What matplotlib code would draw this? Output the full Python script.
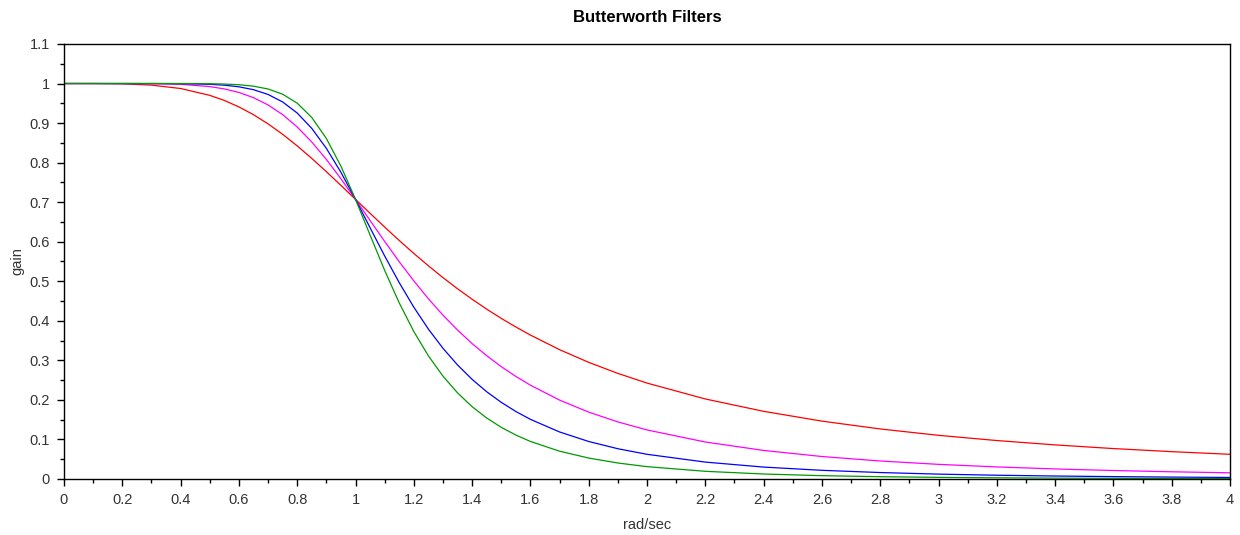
import matplotlib
matplotlib.use('Agg')
import matplotlib.pyplot as plt
from matplotlib.ticker import MultipleLocator

plt.rcParams['font.family'] = ['Liberation Sans', 'DejaVu Sans']

# frequency points (rad/sec)
w = [0.0, 0.1, 0.2, 0.3, 0.4, 0.5, 0.55, 0.6, 0.65, 0.7, 0.75, 0.8, 0.85, 0.9, 0.95,
     1.0, 1.05, 1.1, 1.15, 1.2, 1.25, 1.3, 1.35, 1.4, 1.45, 1.5, 1.55, 1.6, 1.7, 1.8,
     1.9, 2.0, 2.2, 2.4, 2.6, 2.8, 3.0, 3.2, 3.4, 3.6, 3.8, 4.0]

gain_red = [1.0, 1.0, 0.9992, 0.996, 0.9874, 0.9701, 0.9572, 0.9409, 0.9212, 0.898,
            0.8716, 0.8423, 0.8106, 0.7771, 0.7424, 0.7071, 0.6718, 0.637, 0.6031,
            0.5704, 0.5391, 0.5092, 0.481, 0.4545, 0.4295, 0.4061, 0.3843, 0.3639,
            0.327, 0.2949, 0.267, 0.2425, 0.2023, 0.1711, 0.1463, 0.1265, 0.1104,
            0.0972, 0.0862, 0.0769, 0.0691, 0.0624]
gain_magenta = [1.0, 1.0, 1.0, 0.9996, 0.998, 0.9923, 0.9864, 0.9775, 0.9643, 0.9459,
                0.9214, 0.8901, 0.8521, 0.8081, 0.7592, 0.7071, 0.6537, 0.6007, 0.5494,
                0.5009, 0.4557, 0.4143, 0.3765, 0.3424, 0.3117, 0.2841, 0.2594, 0.2372,
                0.1995, 0.169, 0.1443, 0.124, 0.0935, 0.0722, 0.0568, 0.0455, 0.037,
                0.0305, 0.0254, 0.0214, 0.0182, 0.0156]
gain_blue = [1.0, 1.0, 1.0, 1.0, 0.9997, 0.998, 0.9958, 0.9917, 0.9844, 0.9724,
             0.9534, 0.9254, 0.8865, 0.8361, 0.7754, 0.7071, 0.6353, 0.564, 0.4964,
             0.4344, 0.379, 0.3305, 0.2883, 0.2519, 0.2206, 0.1938, 0.1707, 0.1508,
             0.1189, 0.0948, 0.0765, 0.0624, 0.0427, 0.0301, 0.0219, 0.0163, 0.0123,
             0.0095, 0.0075, 0.006, 0.0048, 0.0039]
gain_green = [1.0, 1.0, 1.0, 1.0, 1.0, 0.9995, 0.9987, 0.997, 0.9933, 0.9862,
              0.973, 0.9503, 0.9141, 0.8611, 0.7909, 0.7071, 0.6168, 0.5275, 0.4452,
              0.3729, 0.3114, 0.2601, 0.2177, 0.1828, 0.1542, 0.1306, 0.1111, 0.0949,
              0.0703, 0.0529, 0.0404, 0.0312, 0.0194, 0.0126, 0.0084, 0.0058, 0.0041,
              0.003, 0.0022, 0.0017, 0.0013, 0.001]

fig = plt.figure(figsize=(12.4, 5.35), dpi=100)
ax = fig.add_axes([0.0516, 0.1047, 0.9404, 0.8131])

ax.plot(w, gain_red, color='#ff0000', lw=0.9)
ax.plot(w, gain_magenta, color='#ff00ff', lw=0.9)
ax.plot(w, gain_blue, color='#0000ff', lw=0.9)
ax.plot(w, gain_green, color='#009900', lw=0.9)

ax.set_xlim(0, 4)
ax.set_ylim(0, 1.1)
ax.xaxis.set_major_locator(MultipleLocator(0.2))
ax.xaxis.set_minor_locator(MultipleLocator(0.1))
ax.yaxis.set_major_locator(MultipleLocator(0.1))
ax.yaxis.set_minor_locator(MultipleLocator(0.05))
fmt = plt.FuncFormatter(lambda v, p: ('%.1f' % v).rstrip('0').rstrip('.'))
ax.xaxis.set_major_formatter(fmt)
ax.yaxis.set_major_formatter(fmt)
ax.tick_params(which='major', direction='out', length=5, width=1, labelsize=10.5,
               labelcolor='#333333', pad=5)
ax.tick_params(which='minor', direction='out', length=3, width=1)
for s in ax.spines.values():
    s.set_linewidth(1)

ax.set_title('Butterworth Filters', fontsize=12, fontweight='bold', pad=16)
ax.set_xlabel('rad/sec', fontsize=10.5, color='#333333', labelpad=8)
ax.set_ylabel('gain', fontsize=10.5, color='#333333', labelpad=4)

fig.savefig('out.png', dpi=100)
